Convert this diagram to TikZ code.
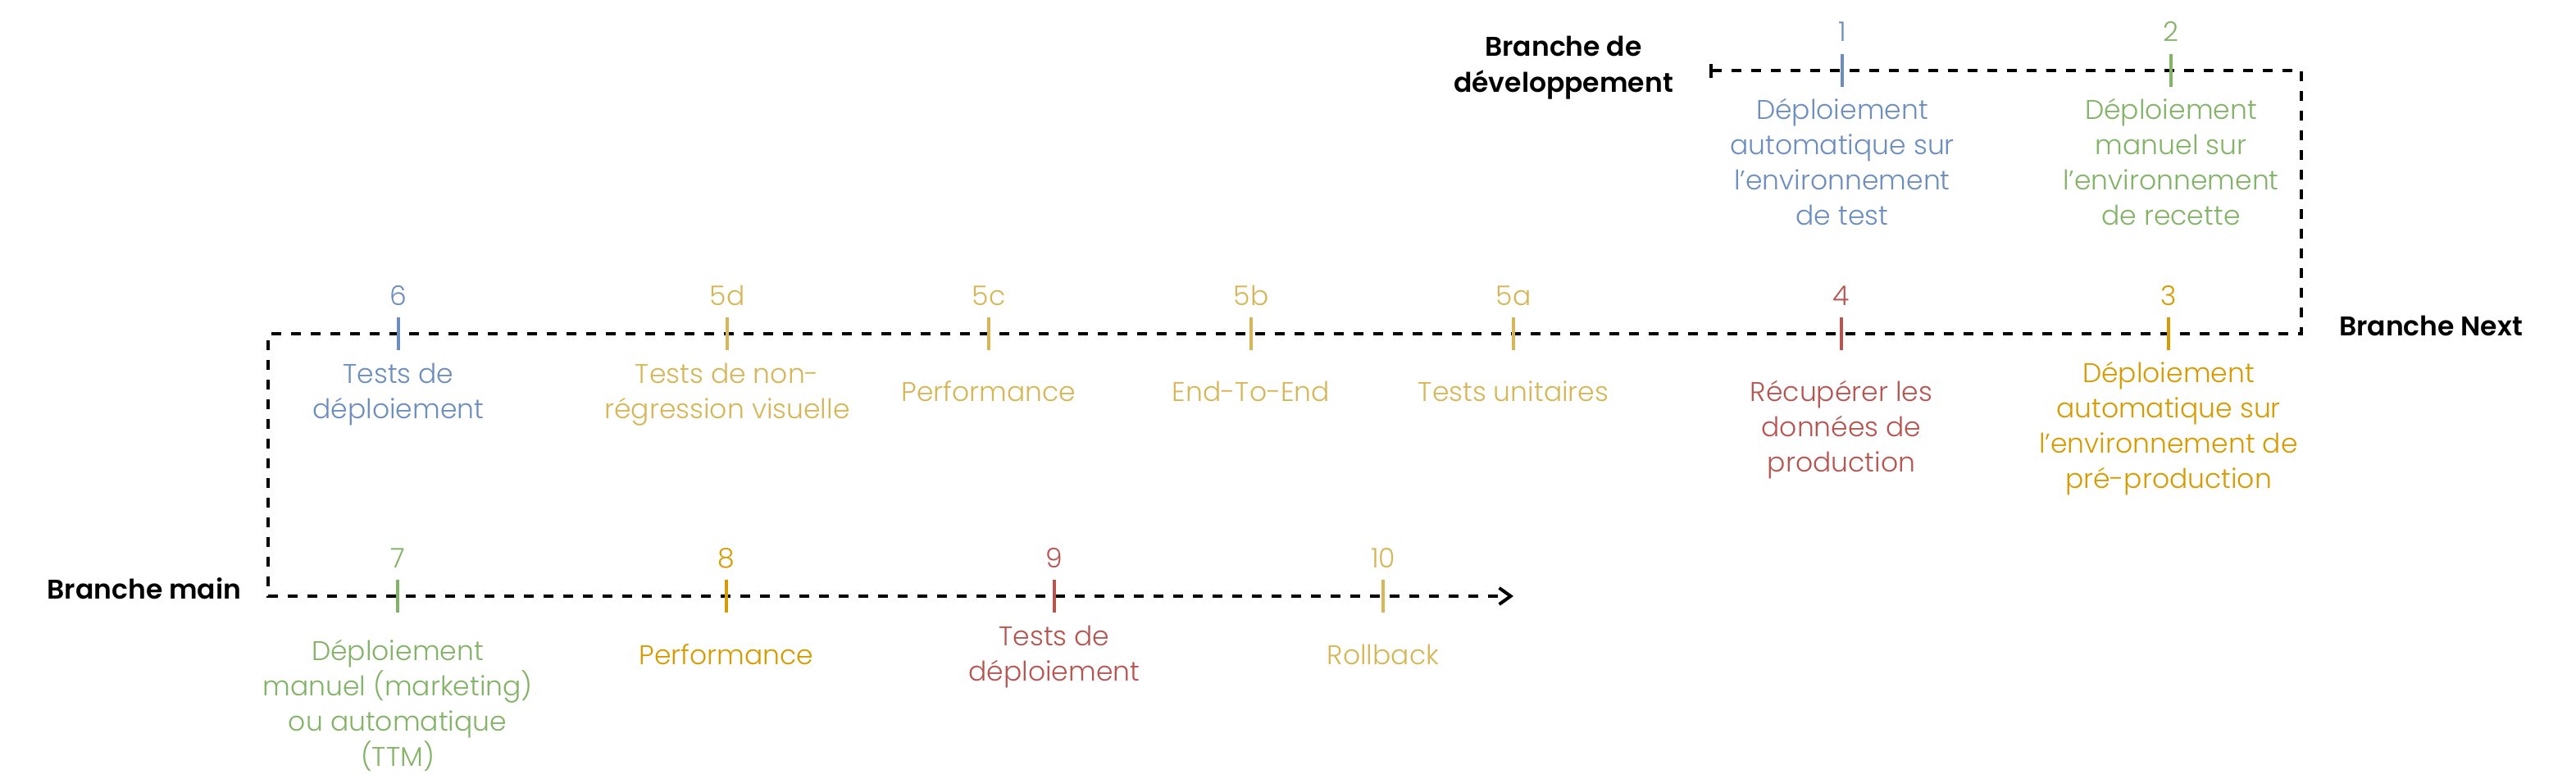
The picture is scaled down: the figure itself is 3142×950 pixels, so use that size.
\documentclass[tikz,border=0pt]{standalone}
\usepackage{fontspec}
\setmainfont{Poppins}
\newfontfamily\labfont{Poppins Light}
\newfontfamily\ttlfont{Poppins SemiBold}
\usetikzlibrary{arrows.meta}
\definecolor{cblue}{HTML}{6C8EBF}
\definecolor{cgreen}{HTML}{82B366}
\definecolor{cyel}{HTML}{D6B656}
\definecolor{corange}{HTML}{D79B00}
\definecolor{cred}{HTML}{B85450}
\tikzset{
  branch/.style={line width=4.5pt, dash pattern=on 12pt off 12pt, black, line join=miter},
  tickmark/.style={line width=3.5pt},
  numlab/.style={font=\labfont\fontsize{33}{43}\selectfont, inner sep=0pt, anchor=base},
  desclab/.style={font=\labfont\fontsize{33}{43}\selectfont, inner sep=0pt, anchor=base, align=center},
  titlelab/.style={font=\ttlfont\fontsize{33}{44}\selectfont, inner sep=0pt, anchor=base, align=center},
}
\begin{document}
\begin{tikzpicture}[x=1pt,y=-1pt]
\useasboundingbox (0,0) rectangle (3142,950);
% branch path
\coordinate (d0) at (2085,86);
\coordinate (c1) at (2807,86);
\coordinate (c2) at (2807,407);
\coordinate (c3) at (327,407);
\coordinate (c4) at (327,727);
\coordinate (e) at (1846,727);
\draw[branch, {Bar[width=17pt,line width=4pt,sep=0pt]}-{Straight Barb[length=14pt,width=20pt,line width=4pt]}]
  (d0) -- (c1) -- (c2) -- (c3) -- (c4) -- (e);
% titles (base = last line baseline)
\node[titlelab] (tdev) at (1907,112) {Branche de\\développement};
\node[titlelab] (tnext) at (2965,409) {Branche Next};
\node[titlelab] (tmain) at (176,730) {Branche main};
% ticks
\newcommand{\mytick}[5]{%
  \coordinate (#1t) at (#2,#3-20);
  \coordinate (#1b) at (#2,#3+20);
  \draw[tickmark, #4] (#1t) -- (#1b);
  \node[numlab, text=#4] (#1n) at (#2,#3-35) {#5};
}
\mytick{s1}{2247}{86}{cblue}{1}
\mytick{s2}{2648}{86}{cgreen}{2}
\mytick{s3}{2645}{407}{corange}{3}
\mytick{s4}{2246}{407}{cred}{4}
\mytick{s5a}{1846}{407}{cyel}{5a}
\mytick{s5b}{1526}{407}{cyel}{5b}
\mytick{s5c}{1206}{407}{cyel}{5c}
\mytick{s5d}{887}{407}{cyel}{5d}
\mytick{s6}{486}{407}{cblue}{6}
\mytick{s7}{485}{727}{cgreen}{7}
\mytick{s8}{886}{727}{corange}{8}
\mytick{s9}{1286}{727}{cred}{9}
\mytick{s10}{1687}{727}{cyel}{10}
% descriptions (base = last line baseline)
\node[desclab, text=cblue] (l1) at (2247,274) {Déploiement\\automatique sur\\l’environnement\\de test};
\node[desclab, text=cgreen] (l2) at (2648,274) {Déploiement\\manuel sur\\l’environnement\\de recette};
\node[desclab, text=corange] (l3) at (2645,595) {Déploiement\\automatique sur\\l’environnement de\\pré-production};
\node[desclab, text=cred] (l4) at (2246,575) {Récupérer les\\données de\\production};
\node[desclab, text=cyel] (l5a) at (1846,489) {Tests unitaires};
\node[desclab, text=cyel] (l5b) at (1526,489) {End-To-End};
\node[desclab, text=cyel] (l5c) at (1206,489) {Performance};
\node[desclab, text=cyel] (l5d) at (887,510) {Tests de non-\\régression visuelle};
\node[desclab, text=cblue] (l6) at (486,510) {Tests de\\déploiement};
\node[desclab, text=cgreen] (l7) at (485,934) {Déploiement\\manuel (marketing)\\ou automatique\\(TTM)};
\node[desclab, text=corange] (l8) at (886,810) {Performance};
\node[desclab, text=cred] (l9) at (1286,830) {Tests de\\déploiement};
\node[desclab, text=cyel] (l10) at (1687,810) {Rollback};
\end{tikzpicture}
\end{document}
